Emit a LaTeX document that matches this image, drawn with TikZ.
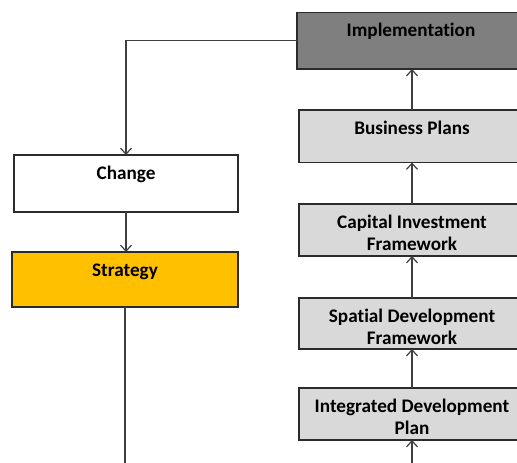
\documentclass[tikz,border=0pt]{standalone}
\usepackage{fontspec}
\setmainfont{Carlito}[Ligatures=NoCommon]
\usetikzlibrary{arrows.meta}

% box text: first line set near the top of the box
\newcommand\boxlabel[3]{\parbox[t][#2][t]{#1}{\centering\vspace*{8.5pt}\strut#3}}

\definecolor{boxline}{HTML}{2B2B2B}
\definecolor{linkline}{HTML}{3F3F3F}
\definecolor{darkfill}{HTML}{7F7F7F}
\definecolor{lightfill}{HTML}{D9D9D9}
\definecolor{amber}{HTML}{FFC000}

\begin{document}
\begin{tikzpicture}[x=1pt,y=-1pt,
  stagebox/.style={draw=boxline, line width=1.3pt, inner sep=0pt, outer sep=0pt,
    font=\fontsize{19.2}{22.5}\selectfont\bfseries, text=black},
  link/.style={draw=linkline, line width=1.3pt, -{Straight Barb[length=6pt,width=11pt,line width=1.2pt]}},
  plainlink/.style={draw=linkline, line width=1.3pt}]
  \useasboundingbox[fill=white] (0,0) rectangle (517,463);
  \clip (0,0) rectangle (517,463);

  % right-hand column, built from the bottom up
  \node[stagebox, fill=darkfill]  (impl) at (411,40.75) {\boxlabel{228pt}{56.5pt}{Implementation}};
  \node[stagebox, fill=lightfill] (bp)   at (412,136.25) {\boxlabel{226pt}{52.5pt}{Business Plans}};
  \node[stagebox, fill=lightfill] (cif)  at (412,230) {\boxlabel{226pt}{52pt}{Capital Investment\\Framework}};
  \node[stagebox, fill=lightfill] (sdf)  at (412,323.5) {\boxlabel{226pt}{51pt}{Spatial Development\\Framework}};
  \node[stagebox, fill=lightfill] (idp)  at (412,414) {\boxlabel{226pt}{52pt}{Integrated Development\\Plan}};

  % left-hand column
  \node[stagebox, fill=white] (change)   at (126,183.5) {\boxlabel{224pt}{57pt}{Change}};
  \node[stagebox, fill=amber] (strategy) at (125,279.5) {\boxlabel{226pt}{55pt}{Strategy}};

  % loose ends running off the page
  \coordinate (idpfeed) at (412,475);
  \coordinate (stratout) at (125,475);

  % connectors
  \draw[link] (idpfeed) -- (idp.south);
  \draw[link] (idp.north) -- (sdf.south);
  \draw[link] (sdf.north) -- (cif.south);
  \draw[link] (cif.north) -- (bp.south);
  \draw[link] (bp.north) -- (bp.north |- impl.south);
  \draw[link] (impl.west) -| (change.north);
  \draw[link] (change.south) -- (change.south |- strategy.north);
  \draw[plainlink] (strategy.south) -- (stratout);
\end{tikzpicture}
\end{document}
